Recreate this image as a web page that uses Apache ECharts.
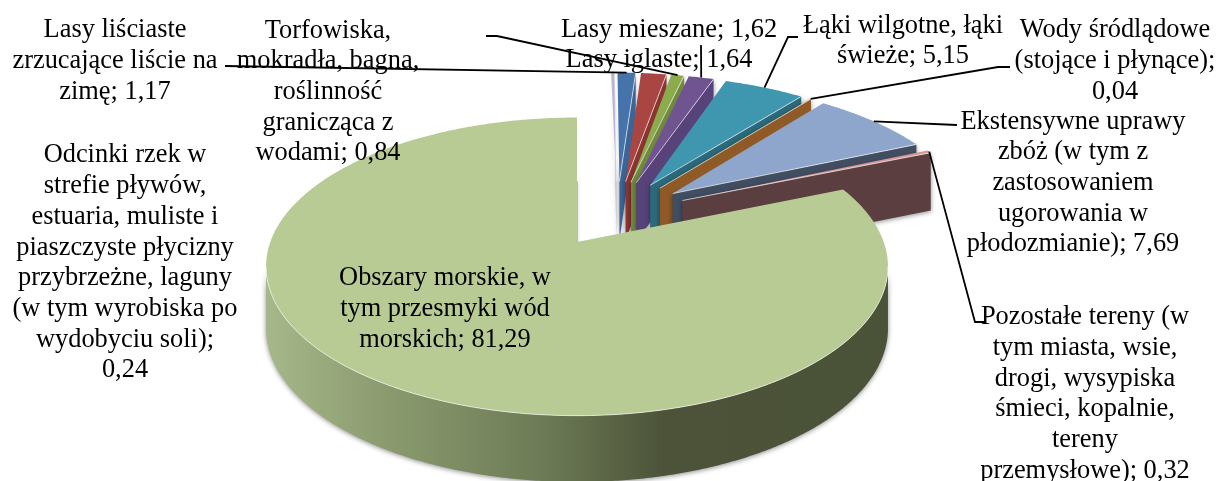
<!DOCTYPE html>
<html><head><meta charset="utf-8">
<style>html,body{margin:0;padding:0;background:#fff}#c{width:1218px;height:481px}</style>
<script src="https://cdn.jsdelivr.net/npm/echarts@6/dist/echarts.min.js"></script>
</head><body><div id="c"></div>
<script>
var labelPrefixes = [
  'Odcinki rzek w\nstrefie pływów,\nestuaria, muliste i\npiaszczyste płycizny\nprzybrzeżne, laguny\n(w tym wyrobiska po\nwydobyciu soli);\n',
  'Lasy liściaste\nzrzucające liście na\nzimę; ',
  'Lasy iglaste; ',
  'Torfowiska,\nmokradła, bagna,\nroślinność\ngranicząca z\nwodami; ',
  'Lasy mieszane; ',
  'Łąki wilgotne, łąki\nświeże; ',
  'Wody śródlądowe\n(stojące i płynące);\n',
  'Ekstensywne uprawy\nzbóż (w tym z\nzastosowaniem\nugorowania w\npłodozmianie); ',
  'Pozostałe tereny (w\ntym miasta, wsie,\ndrogi, wysypiska\nśmieci, kopalnie,\ntereny\nprzemysłowe); ',
  'Obszary morskie, w\ntym przesmyki wód\nmorskich; '
];
var values = [0.24, 1.17, 1.64, 0.84, 1.62, 5.15, 0.04, 7.69, 0.32, 81.29];

var topColors  = ['#bdb3cf','#4674aa','#a94543','#8cab4c','#705492','#3f97af','#b5702b','#8fa6cc','#d99694','#b9cb94'];
var wallColors = ['#a9a3b3','#3a6596','#8b3533','#708a3d','#57427a','#2c6a7b','#8f5a26','#414e62','#5a3e40','#4c5339'];
var labelCenters = [[125,263],[115,61],[659,60],[328,92],[669,30],[903,41],[1115,61],[1073,183],[1085,394],[445,309]];
var leaderTails = [null,[[225,66]],null,[[486,36],[497,36]],[[701,45]],[[798,37],[788,37]],[[1010,67],[998,67]],[[957,125]],[[985,322],[975,322]],null];

var CX = 577, CY = 242, AX = 306.7, AY = 145, PERSP = 0.165, EXPLODE = 0.245;
var FONT = '26.4px "Liberation Serif", serif';

var total = values.reduce(function (a, b) { return a + b; }, 0);
var bounds = [], acc = 0;
values.forEach(function (v) { var s = acc / total * 2 * Math.PI; acc += v; bounds.push([s, acc / total * 2 * Math.PI]); });
var lastB = bounds[bounds.length - 1], lastMid = (lastB[0] + lastB[1]) / 2;
var OX = -EXPLODE * Math.sin(lastMid), OY = -EXPLODE * Math.cos(lastMid);

function project(X, Y) { var k = 1 + PERSP * Y; return [CX + AX * X / k, CY - AY * Y / k]; }
function drop(X, Y) { var p = project(X, Y); return [p[0], p[1] + 61 / (1 + 0.08 * Y)]; }
function apexOf(i) { var m = (bounds[i][0] + bounds[i][1]) / 2; return [OX + EXPLODE * Math.sin(m), OY + EXPLODE * Math.cos(m)]; }
function rim(i, t) { var a = apexOf(i); return [a[0] + Math.sin(t), a[1] + Math.cos(t)]; }
function arcPts(i, t0, t1) {
  var n = Math.max(2, Math.ceil((t1 - t0) / 0.008)), out = [];
  for (var k = 0; k <= n; k++) out.push(rim(i, t0 + (t1 - t0) * k / n));
  return out;
}
function mapP(list) { return list.map(function (q) { return project(q[0], q[1]); }); }
function mapD(list) { return list.map(function (q) { return drop(q[0], q[1]); }); }

function renderSlice(params, api) {
  var i = params.dataIndex, b = bounds[i], a = apexOf(i), kids = [];
  var end = rim(i, b[1]);
  var shade = { shadowBlur: 5, shadowColor: 'rgba(0,0,0,0.45)', shadowOffsetY: 1 };
  if (i < values.length - 1) {
    kids.push({ type: 'polygon', silent: true,
      shape: { points: [project(a[0], a[1]), project(end[0], end[1]), drop(end[0], end[1]), drop(a[0], a[1])] },
      style: Object.assign({ fill: wallColors[i] }, shade) });
  } else {
    var f0 = Math.acos(-PERSP), f1 = 2 * Math.PI - f0;
    var front = arcPts(i, f0, f1);
    kids.push({ type: 'polygon', silent: true,
      shape: { points: mapP(front).concat(mapD(front).reverse()) },
      style: Object.assign({ fill: { type: 'linear', x: 1, y: 0, x2: 0, y2: 0, colorStops: [
        { offset: 0, color: '#4a5238' }, { offset: 0.36, color: '#4c5339' }, { offset: 0.55, color: '#6c7a55' },
        { offset: 0.8, color: '#8a9a6e' }, { offset: 1, color: '#a6b78a' }] } }, shade) });
    kids.push({ type: 'polygon', silent: true,
      shape: { points: [project(a[0], a[1]), project(a[0], a[1] + 0.45), drop(a[0], a[1] + 0.45), drop(a[0], a[1])] },
      style: { fill: '#ffffff', stroke: 'rgba(120,120,120,0.5)', lineWidth: 1, shadowBlur: 4, shadowColor: 'rgba(0,0,0,0.5)' } });
  }
  var arc = arcPts(i, b[0], b[1]);
  kids.push({ type: 'polygon', silent: true,
    shape: { points: [project(a[0], a[1])].concat(mapP(arc)) },
    style: { fill: topColors[i] } });
  var light = i < values.length - 1 ? [project(a[0], a[1]), project(end[0], end[1])] : mapP(arcPts(i, Math.acos(-PERSP), 2 * Math.PI - Math.acos(-PERSP)));
  kids.push({ type: 'polyline', silent: true, shape: { points: light },
    style: { stroke: 'rgba(255,255,255,0.65)', lineWidth: 1, fill: null } });
  return { type: 'group', children: kids };
}

function renderLabel(params, api) {
  var i = params.dataIndex, kids = [], val = api.value(0).toFixed(2).replace('.', ',');
  if (leaderTails[i]) {
    var m = (bounds[i][0] + bounds[i][1]) / 2, r = rim(i, m);
    kids.push({ type: 'polyline', silent: true,
      shape: { points: leaderTails[i].concat([project(r[0], r[1])]) },
      style: { stroke: '#000', lineWidth: 1.8, fill: null } });
  }
  kids.push({ type: 'text', silent: true,
    style: { text: labelPrefixes[i] + val, x: labelCenters[i][0], y: labelCenters[i][1],
      align: 'center', verticalAlign: 'middle', font: FONT, lineHeight: 30.7, fill: '#000' } });
  return { type: 'group', children: kids };
}

var rows = values.map(function (v) { return [v]; });
var chart = echarts.init(document.getElementById('c'), null, { renderer: 'canvas' });
chart.setOption({
  animation: false,
  backgroundColor: '#fff',
  series: [
    { type: 'custom', name: 'slices', coordinateSystem: 'none', renderItem: renderSlice, data: rows, z: 2 },
    { type: 'custom', name: 'labels', coordinateSystem: 'none', renderItem: renderLabel, data: rows, z: 3 }
  ]
});
</script></body></html>
